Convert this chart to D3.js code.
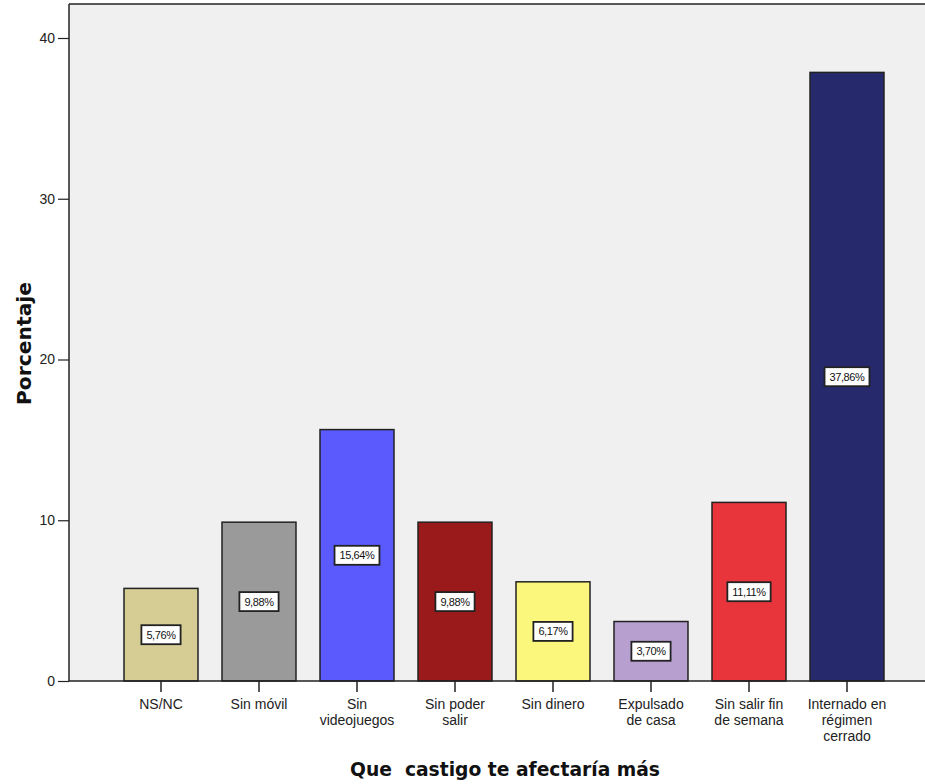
<!DOCTYPE html>
<html><head><meta charset="utf-8">
<script src="https://cdn.jsdelivr.net/npm/d3@7/dist/d3.min.js"></script>
<style>body{margin:0;background:#fff;} text{font-family:"Liberation Sans",Arial,sans-serif;}</style>
</head><body><svg id="c" width="925" height="784"></svg>
<script>
const categories = [["NS/NC"],["Sin móvil"],["Sin","videojuegos"],["Sin poder","salir"],["Sin dinero"],["Expulsado","de casa"],["Sin salir fin","de semana"],["Internado en","régimen","cerrado"]];
const values = [5.76, 9.88, 15.64, 9.88, 6.17, 3.70, 11.11, 37.86];
const colors = ["#d5cd94","#9a9a9a","#5b5bfd","#9a1a1c","#faf77c","#b7a0cf","#e8353b","#262a6d"];
const yTicks = [0,10,20,30,40];

const svg = d3.select("#c");
const pL = 69, pT = 4, pR = 925, pB = 681;
svg.append("rect").attr("x",pL).attr("y",pT).attr("width",pR-pL).attr("height",pB-pT).attr("fill","#f0f0f0");
const x = d3.scaleBand().domain(d3.range(values.length)).range([112, 896]).paddingInner(0.245).paddingOuter(0.1225);
const y = d3.scaleLinear().domain([0,40]).range([pB, 38]);

const g = svg.append("g");
g.selectAll("rect.bar").data(values).join("rect").attr("class","bar")
  .attr("x",(d,i)=>x(i)).attr("width",x.bandwidth())
  .attr("y",d=>y(d)).attr("height",d=>y(0)-y(d))
  .attr("fill",(d,i)=>colors[i]).attr("stroke","#222").attr("stroke-width",1.5);

// value labels
const fmt = d => d.toFixed(2).replace(".",",")+"%";
values.forEach((v,i)=>{
  const cx = x(i)+x.bandwidth()/2, cy = y(v/2);
  const t = g.append("text").attr("x",cx).attr("y",cy+4).attr("text-anchor","middle")
    .attr("font-size",11).attr("fill","#111").attr("letter-spacing","-0.4").text(fmt(v));
  const w = t.node().getComputedTextLength();
  g.insert("rect","text:last-child").attr("x",cx-w/2-5).attr("y",cy-9.5).attr("width",w+10).attr("height",19)
    .attr("fill","#fff").attr("stroke","#222").attr("stroke-width",1.8);
  t.raise();
});

// frame
svg.append("line").attr("x1",pL).attr("x2",pR).attr("y1",pT).attr("y2",pT).attr("stroke","#222").attr("stroke-width",1.5);
// y axis
const ya = svg.append("g").attr("transform",`translate(${pL},0)`)
  .call(d3.axisLeft(y).tickValues(yTicks).tickSize(11).tickPadding(3).tickFormat(d3.format("d")));
ya.select(".domain").attr("d",`M0,${pT}V${pB}`).attr("stroke","#222").attr("stroke-width",1.5);
ya.selectAll(".tick line").attr("stroke","#222").attr("stroke-width",1.2);
ya.selectAll(".tick text").attr("font-size",14).attr("fill","#222").attr("font-family","Liberation Sans, Arial, sans-serif");

// x axis
const xa = svg.append("g").attr("transform",`translate(0,${pB})`)
  .call(d3.axisBottom(x).tickSize(11).tickFormat(""));
xa.select(".domain").attr("d",`M${pL},0H${pR}`).attr("stroke","#222").attr("stroke-width",1.5);
xa.selectAll(".tick line").attr("stroke","#222").attr("stroke-width",1.5);
categories.forEach((lines,i)=>{
  const t = svg.append("text").attr("x",x(i)+x.bandwidth()/2).attr("y",pB+28)
    .attr("text-anchor","middle").attr("font-size",14).attr("fill","#222");
  lines.forEach((l,j)=>t.append("tspan").attr("x",x(i)+x.bandwidth()/2).attr("dy",j?16:0).text(l));
});

svg.append("text").attr("x",350).attr("y",776)
  .attr("font-size",19).attr("font-weight","bold").attr("fill","#111").attr("xml:space","preserve")
  .style("font-family","'DejaVu Sans', sans-serif")
  .attr("textLength",310).attr("lengthAdjust","spacingAndGlyphs").text("Que  castigo te afectaría más");
svg.append("text").attr("transform","translate(31,405) rotate(-90)")
  .attr("font-size",19).attr("font-weight","bold").attr("fill","#111")
  .style("font-family","'DejaVu Sans', sans-serif")
  .attr("textLength",123).attr("lengthAdjust","spacingAndGlyphs").text("Porcentaje");
</script></body></html>
